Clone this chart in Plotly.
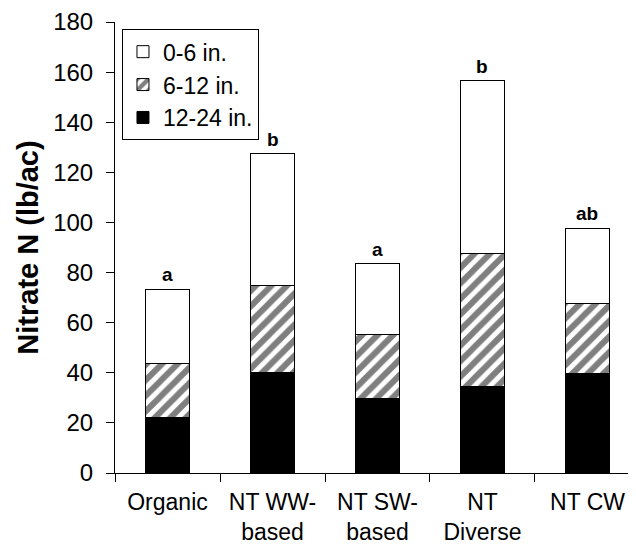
import plotly.graph_objects as go

categories = ["Organic", "NT WW-<br>based", "NT SW-<br>based", "NT<br>Diverse", "NT CW"]
depth_12_24 = [22.3, 40.3, 29.8, 34.6, 39.6]
depth_6_12 = [21.4, 34.5, 25.6, 53.0, 28.0]
depth_0_6 = [29.7, 52.6, 28.2, 69.0, 30.0]
letters = ["a", "b", "a", "b", "ab"]
series_names = ["12-24 in.", "6-12 in.", "0-6 in."]

FONT = "Arial, Liberation Sans, sans-serif"
fig = go.Figure()
fig.add_trace(go.Bar(x=categories, y=depth_12_24, name=series_names[0],
                     marker=dict(color="black", line=dict(color="black", width=1))))
fig.add_trace(go.Bar(x=categories, y=depth_6_12, name=series_names[1],
                     marker=dict(color="white", line=dict(color="black", width=1),
                                 pattern=dict(shape="/", fgcolor="black", bgcolor="white",
                                              size=11, solidity=0.55))))
fig.add_trace(go.Bar(x=categories, y=depth_0_6, name=series_names[2],
                     marker=dict(color="white", line=dict(color="black", width=1))))

totals = [a + b + c for a, b, c in zip(depth_12_24, depth_6_12, depth_0_6)]
for cat, tot, lab in zip(categories, totals, letters):
    fig.add_annotation(x=cat, y=tot, text="<b>%s</b>" % lab, showarrow=False,
                       yanchor="bottom", yshift=2, font=dict(size=19, color="black", family=FONT))

# page body has an 8px margin, so the figure is sized/offset to fit the 636x549 window
fig.update_layout(
    barmode="stack", bargap=0.59,
    width=628, height=541,
    margin=dict(l=107, r=0, t=14, b=76),
    plot_bgcolor="white", paper_bgcolor="white",
    font=dict(family=FONT, size=24, color="black"),
    legend=dict(x=0.0134, y=0.984, xanchor="left", yanchor="top", traceorder="reversed",
                bordercolor="black", borderwidth=1, bgcolor="white",
                font=dict(size=23), itemwidth=30, tracegroupgap=0),
    showlegend=True,
)
fig.update_xaxes(range=[-0.5, 4.462], showline=True, linecolor="black", linewidth=1,
                 ticks="outside", tickson="boundaries", ticklen=8, tickcolor="black",
                 tickfont=dict(size=23), showgrid=False, ticklabelstandoff=8, automargin=False)
fig.update_yaxes(range=[0, 180], dtick=20, showline=True, linecolor="black", linewidth=1,
                 ticks="outside", ticklen=8, tickcolor="black", showgrid=False, zeroline=False,
                 tickfont=dict(size=24), ticklabelstandoff=8, automargin=False,
                 title=dict(text="<b>Nitrate N (lb/ac)</b>", font=dict(size=29), standoff=6))
fig.write_html("out.html")
